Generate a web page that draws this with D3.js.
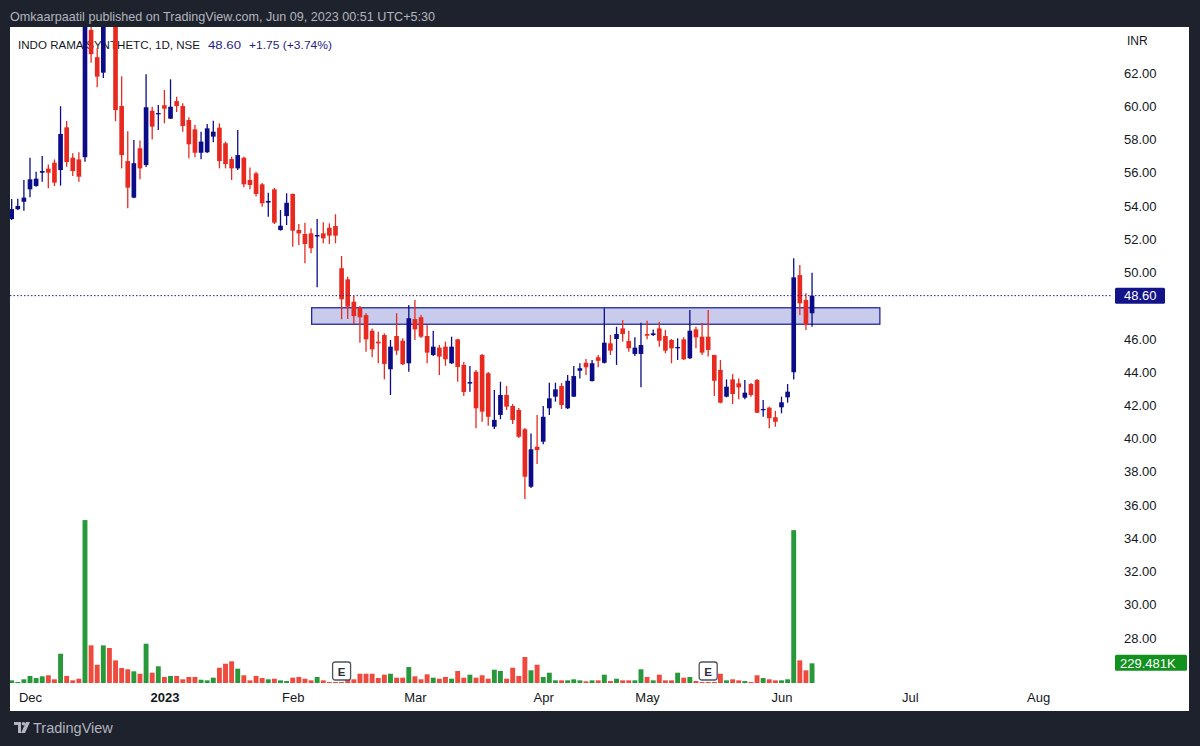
<!DOCTYPE html>
<html><head><meta charset="utf-8">
<script src="https://cdn.jsdelivr.net/npm/d3@7"></script>
<style>html,body{margin:0;padding:0;background:#1e222d;}svg{display:block;font-family:"Liberation Sans",Arial,sans-serif;}</style>
</head><body><svg id="c" width="1200" height="746"></svg>
<script>
// ---- data (index 0 = 1 Dec 2022, trading-day index) ----
const startIndex = -3;
const opens = [53.21,53.80,54.25,55.00,55.20,56.00,56.24,56.60,56.16,58.73,56.90,56.80,56.93,64.59,62.95,62.02,66.00,65.20,60.01,56.70,54.50,57.47,56.46,59.73,59.53,60.06,59.25,60.31,60.01,59.17,58.61,57.20,57.23,58.17,58.71,57.77,56.82,56.26,56.90,55.56,55.96,55.30,54.20,55.00,52.55,53.39,54.72,52.55,52.31,52.35,52.16,52.35,52.69,52.79,50.25,49.58,48.24,47.87,47.43,46.49,45.83,46.23,44.17,46.17,45.89,44.53,47.19,47.30,46.17,45.03,45.47,45.53,44.53,45.97,44.43,43.31,44.02,45.03,43.93,40.71,41.42,42.62,41.96,41.72,40.56,37.10,39.51,39.81,41.82,42.52,43.16,41.82,42.52,44.08,44.56,43.46,44.89,44.56,45.73,45.99,46.63,45.87,45.09,45.09,46.29,46.23,46.63,46.17,45.93,45.43,45.97,44.83,46.57,46.13,46.13,45.03,44.13,42.52,43.56,43.32,42.46,43.28,43.52,41.72,41.86,41.28,41.88,42.48,43.99,49.84,48.34,47.54];
const highs = [54.42,54.43,55.56,56.90,56.06,57.00,56.50,56.80,60.00,59.11,57.17,57.23,66.00,65.80,63.49,65.50,67.00,65.80,61.80,58.50,57.97,57.93,61.92,59.97,60.07,60.98,61.62,60.57,60.18,59.33,58.87,58.47,58.93,59.13,58.97,57.87,56.96,58.57,56.96,56.32,56.06,55.38,54.80,55.08,53.75,54.76,54.75,52.91,52.99,52.65,53.21,53.01,52.95,53.50,50.99,49.74,48.58,47.98,47.54,46.63,46.43,46.33,45.93,47.54,46.03,48.04,48.34,47.44,46.83,46.49,45.63,45.83,46.13,46.00,44.61,44.37,44.12,45.09,44.00,42.92,43.42,43.16,42.08,41.84,40.63,40.31,41.42,41.96,43.36,43.36,43.34,43.82,44.37,44.53,44.79,44.73,45.03,47.84,46.23,46.73,47.13,46.49,46.09,46.97,47.09,46.57,47.03,46.53,45.99,46.03,46.09,47.74,46.73,46.97,47.74,45.05,44.73,43.56,43.88,43.62,43.52,43.34,43.58,42.32,41.92,41.66,42.52,43.28,50.85,50.44,48.74,49.98];
const lows = [53.15,53.75,53.71,54.52,55.16,55.46,55.06,55.20,55.22,56.36,55.80,55.46,56.66,62.62,61.14,61.70,65.10,59.10,56.26,53.86,54.46,55.60,56.34,58.00,58.57,58.97,59.23,59.65,58.47,56.87,56.93,56.81,57.19,57.83,56.26,56.26,55.56,56.16,55.12,55.00,54.56,53.95,53.35,52.91,52.51,52.85,51.55,51.65,50.55,51.15,49.10,51.75,51.71,51.75,47.18,47.19,46.89,45.77,45.23,44.89,44.53,43.56,42.62,45.03,44.43,44.02,45.93,46.05,44.53,44.97,43.82,44.38,44.49,43.42,42.56,42.82,40.62,41.01,40.77,40.57,41.16,41.72,40.87,40.03,36.36,37.02,38.47,39.65,41.42,42.22,41.78,41.78,42.50,43.62,43.82,43.43,44.29,44.52,45.03,44.43,45.83,45.23,44.97,43.08,45.97,46.17,45.53,45.13,44.53,44.73,44.73,44.79,45.43,45.03,44.93,42.56,42.12,42.48,42.08,42.36,42.36,42.52,41.54,41.31,40.62,40.71,41.52,42.16,43.56,47.43,46.53,46.73];
const closes = [53.81,54.00,54.50,55.60,55.64,56.10,56.00,55.40,58.33,56.64,56.10,55.76,65.50,63.13,61.78,65.00,65.50,59.77,57.06,55.10,56.57,56.26,59.94,58.77,59.59,59.85,59.97,60.01,58.81,57.71,57.20,57.87,58.67,58.47,56.70,56.52,56.26,57.06,55.30,55.26,54.72,54.16,54.30,52.99,52.81,54.19,52.51,52.35,51.71,51.45,52.25,52.05,52.21,52.21,48.38,47.94,47.37,47.30,45.97,45.37,45.73,44.49,45.53,45.29,44.47,47.24,46.57,46.13,45.17,45.53,44.93,44.77,45.53,44.31,42.80,43.40,41.82,41.62,41.31,41.12,42.62,41.92,41.12,40.11,37.70,39.35,39.31,41.31,42.42,42.96,42.02,43.48,43.76,44.23,44.29,44.53,44.68,45.77,45.29,46.29,46.29,45.43,45.47,45.63,46.19,46.33,45.89,45.29,45.43,45.51,44.77,46.49,46.09,45.17,45.33,43.48,42.16,43.12,42.68,43.08,42.76,42.62,41.55,41.78,41.22,41.01,42.18,42.82,49.70,48.14,46.85,48.60];
const volumes = [31,12,43,82,58,78,90,43,341,82,31,50,1899,439,213,439,408,264,175,160,136,108,458,120,195,70,82,82,43,70,70,38,31,62,178,225,253,167,90,31,82,58,43,50,31,23,62,70,50,31,70,31,12,12,12,70,43,108,108,108,58,97,108,62,62,186,78,43,101,62,50,70,50,140,62,97,62,90,50,155,140,50,178,82,303,148,213,70,120,31,31,31,43,31,20,31,31,97,23,50,31,31,31,160,70,31,97,31,31,120,62,70,23,12,12,12,108,31,43,31,23,12,90,58,43,31,31,43,1782,264,148,229.481];
const priceTicks = [26,28,30,32,34,36,38,40,42,44,46,48,50,52,54,56,58,60,62];
const monthLabels = ["Dec","2023","Feb","Mar","Apr","May","Jun","Jul","Aug"];
const monthIndex = [0,22,43,63,84,101,123,144,165];
const zoneTop = 47.87, zoneBottom = 46.88, zoneFrom = 46.1, zoneTo = 139.1;
const earningsIndex = [51, 111];
const lastPrice = 48.60, lastVolume = 229.481;

const candles = opens.map((o,i)=>({i:i+startIndex,o,h:highs[i],l:lows[i],c:closes[i],v:volumes[i]}));

const svg = d3.select("#c");
const W=1200,H=746;
const panel={x0:10,x1:1189,y0:27,y1:711};
const plotRight=1112;
const blue="#0c0c88", red="#e8291f", vRed="#ef4a3e", vGreen="#27993a";

svg.append("rect").attr("width",W).attr("height",H).attr("fill","#1e222d");
svg.append("text").attr("x",10).attr("y",21).attr("fill","#b2b5be").attr("font-size",12.6)
  .text("Omkaarpaatil published on TradingView.com, Jun 09, 2023 00:51 UTC+5:30");
svg.append("rect").attr("x",panel.x0).attr("y",panel.y0).attr("width",panel.x1-panel.x0).attr("height",panel.y1-panel.y0).attr("fill","#ffffff");

const x = d3.scaleLinear().domain([0,123]).range([30,781.5]);
const y = d3.scaleLinear().domain([36,62]).range([505,73]);
const yv = d3.scaleLinear().domain([0,1900]).range([683,520]);
const step = x(1)-x(0);

svg.append("defs").append("clipPath").attr("id","clip").append("rect")
  .attr("x",panel.x0).attr("y",panel.y0).attr("width",plotRight-panel.x0).attr("height",panel.y1-panel.y0);

// legend (behind candles)
const lg = svg.append("g").attr("font-size",11.6);
lg.append("text").attr("x",18).attr("y",49).attr("fill","#131722").attr("textLength",182).attr("lengthAdjust","spacingAndGlyphs").text("INDO RAMA SYNTHETC, 1D, NSE");
lg.append("text").attr("x",208).attr("y",49).attr("fill","#1e1e84").attr("textLength",33).attr("lengthAdjust","spacingAndGlyphs").text(lastPrice.toFixed(2));
lg.append("text").attr("x",249).attr("y",49).attr("fill","#1e1e84").attr("textLength",83).attr("lengthAdjust","spacingAndGlyphs").text("+1.75 (+3.74%)");

const plot = svg.append("g").attr("clip-path","url(#clip)");

// volume
plot.selectAll("rect.vol").data(candles).join("rect").attr("class","vol")
  .attr("x",d=>x(d.i)-step*0.4).attr("width",step*0.8)
  .attr("y",d=>yv(d.v)).attr("height",d=>yv(0)-yv(d.v))
  .attr("fill",d=>d.c>=d.o?vGreen:vRed);

// zone rectangle
plot.append("rect").attr("x",x(zoneFrom)).attr("width",x(zoneTo)-x(zoneFrom))
  .attr("y",y(zoneTop)).attr("height",y(zoneBottom)-y(zoneTop))
  .attr("fill","#c8cbec").attr("stroke","#23279a").attr("stroke-width",1.3);

// last price dotted line
svg.append("line").attr("x1",panel.x0).attr("x2",plotRight).attr("y1",y(lastPrice)).attr("y2",y(lastPrice))
  .attr("stroke","#1e1e8c").attr("stroke-width",1).attr("stroke-dasharray","1.5,2");

// candles
const cg = plot.selectAll("g.cdl").data(candles).join("g").attr("class","cdl");
cg.append("line").attr("x1",d=>x(d.i)).attr("x2",d=>x(d.i)).attr("y1",d=>y(d.h)).attr("y2",d=>y(d.l))
  .attr("stroke",d=>d.c>=d.o?blue:red).attr("stroke-width",1.3);
cg.append("rect").attr("x",d=>x(d.i)-step*0.38).attr("width",step*0.76)
  .attr("y",d=>y(Math.max(d.o,d.c))).attr("height",d=>Math.max(1.3,Math.abs(y(d.o)-y(d.c))))
  .attr("fill",d=>d.c>=d.o?blue:red);

// earnings markers
earningsIndex.forEach(ei=>{
  const g=svg.append("g").attr("transform",`translate(${x(ei)-9},662)`);
  g.append("rect").attr("width",18).attr("height",18).attr("rx",2.5).attr("fill","#ffffff").attr("stroke","#50535e").attr("stroke-width",1.3);
  g.append("text").attr("x",9).attr("y",13.5).attr("text-anchor","middle").attr("font-size",11.5).attr("font-weight","bold").attr("fill","#2a2e39").text("E");
});

// price axis (labels hidden by the value boxes are skipped)
const hidden = d=> Math.abs(y(d)-y(lastPrice))<12 || Math.abs(y(d)-yv(lastVolume))<12;
const ya = d3.axisRight(y).tickValues(priceTicks.filter(d=>!hidden(d))).tickSize(0).tickPadding(0).tickFormat(d3.format(".2f"));
const yag = svg.append("g").attr("transform","translate(1124,0)").call(ya);
yag.select(".domain").remove();
yag.selectAll("text").attr("font-size",13).attr("fill","#131722").attr("font-family","Liberation Sans, Arial, sans-serif");
svg.append("text").attr("x",1127).attr("y",45).attr("font-size",12).attr("fill","#131722").text("INR");

// last price label
svg.append("rect").attr("x",1115).attr("y",y(lastPrice)-8).attr("width",50).attr("height",16).attr("rx",1.5).attr("fill","#13138a");
svg.append("text").attr("x",1124).attr("y",y(lastPrice)+4.8).attr("font-size",13).attr("fill","#ffffff").text(lastPrice.toFixed(2));
// last volume label
svg.append("rect").attr("x",1115).attr("y",yv(lastVolume)-8.5).attr("width",72).attr("height",16).attr("rx",1.5).attr("fill","#12911f");
svg.append("text").attr("x",1120).attr("y",yv(lastVolume)+4.5).attr("font-size",13).attr("fill","#ffffff").text(lastVolume.toFixed(3)+"K");

// time axis
const xa = d3.axisBottom(x).tickValues(monthIndex).tickSize(0).tickPadding(3).tickFormat((d,i)=>monthLabels[i]);
const xag = svg.append("g").attr("transform","translate(0,690)").call(xa);
xag.select(".domain").remove();
xag.selectAll("text").attr("font-size",13).attr("fill","#131722").attr("font-family","Liberation Sans, Arial, sans-serif")
  .attr("font-weight",(d,i)=>monthLabels[i]==="2023"?"bold":"normal");

// footer logo
const lgo = svg.append("g").attr("transform","translate(14,722)").attr("fill","#b2b5be");
lgo.append("path").attr("d","M0,0 H7 V11 H4 V3 H0 Z");
lgo.append("circle").attr("cx",9.5).attr("cy",1.8).attr("r",1.8);
lgo.append("path").attr("d","M12,0 H16 L11,11 H7 Z");
svg.append("text").attr("x",33).attr("y",733).attr("font-size",14.5).attr("fill","#b2b5be").text("TradingView");
</script></body></html>
